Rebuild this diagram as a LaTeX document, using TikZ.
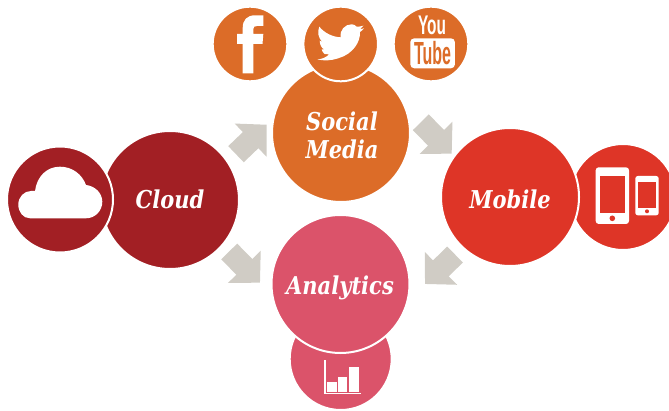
\documentclass[tikz,border=0pt]{standalone}
\usepackage{fontspec}
\usepackage{graphicx}
\setmainfont{DejaVu Serif}
\newfontfamily\logofont{Liberation Sans}
\usetikzlibrary{arrows.meta}
\definecolor{cloudred}{HTML}{A21F24}
\definecolor{socialorange}{HTML}{DC6C28}
\definecolor{mobilered}{HTML}{DE3527}
\definecolor{analyticsrose}{HTML}{DB536A}
\definecolor{arrowgrey}{HTML}{D0CCC5}
\newcommand{\tallword}[1]{\scalebox{1}[1.17]{#1}}
\tikzset{
    disc/.style={circle, draw=white, line width=2pt, outer sep=0pt, inner sep=0pt},
    bigdisc/.style={disc, minimum size=138pt},
    smalldisc/.style={disc, minimum size=106pt},
    logodisc/.style={disc, minimum size=74.6pt},
    disclabel/.style={inner sep=0pt, align=center, text=white, font=\fontsize{21}{28}\selectfont\bfseries\itshape},
    flowarrow/.style={draw=arrowgrey, line width=22.4pt, -{Triangle[length=22.3pt, width=44.7pt, fill=arrowgrey]}},
    icon/.style={fill=white, draw=none},
    logotext/.style={inner sep=0pt, font=\logofont\bfseries}
}

\begin{document}
\begin{tikzpicture}[x=1pt, y=-1pt]
    \useasboundingbox (0,0) rectangle (669,411);
    \clip (0,0) rectangle (669,411);

    % main circles and their small partners
    \node[bigdisc, fill=socialorange] (social) at (341,133) {};
    \node[logodisc, fill=socialorange] (facebook) at (250,44) {};
    \node[logodisc, fill=socialorange] (twitter) at (340.7,44) {};
    \node[logodisc, fill=socialorange] (youtube) at (431,44) {};

    \node[bigdisc, fill=cloudred] (cloud) at (170,200) {};
    \node[smalldisc, fill=cloudred] (cloudicon) at (60,199.5) {};

    \node[smalldisc, fill=mobilered] (mobileicon) at (623,197) {};
    \node[bigdisc, fill=mobilered] (mobile) at (510,197) {};

    \node[disc, minimum size=102pt, fill=analyticsrose] (charticon) at (340.7,359) {};
    \node[bigdisc, fill=analyticsrose] (analytics) at (340.5,284) {};

    % labels
    \node[disclabel] (sociallabel) at (342,135.5) {\tallword{Social}\\\tallword{Media}};
    \node[disclabel] (cloudlabel) at (170,199.5) {\tallword{Cloud}};
    \node[disclabel] (mobilelabel) at (510,199.5) {\tallword{Mobile}};
    \node[disclabel] (analyticslabel) at (340,288) {\tallword{Analytics}};

    % block arrows
    \coordinate (a1) at (236,154.2);
    \coordinate (a2) at (266.7,124.7);
    \coordinate (b1) at (420.8,122.3);
    \coordinate (b2) at (451.7,153.7);
    \coordinate (c1) at (229.2,251.5);
    \coordinate (c2) at (260,282.7);
    \coordinate (d1) at (455,254.5);
    \coordinate (d2) at (425,284);
    \draw[flowarrow] (a1) -- (a2);
    \draw[flowarrow] (b1) -- (b2);
    \draw[flowarrow] (c1) -- (c2);
    \draw[flowarrow] (d1) -- (d2);

    % facebook
    \fill[icon] (242.7,73.3) -- (253.3,73.3) -- (253.3,44) -- (262.5,44) -- (263.3,34) -- (253.3,34) -- (253.3,29)
        .. controls (253.3,27) and (254.5,26) .. (257,26) -- (263.3,26) -- (263.3,15.3) -- (255,15.3)
        .. controls (247,15.3) and (242.7,20) .. (242.7,28) -- (242.7,34) -- (237,34) -- (237,44) -- (242.7,44) -- cycle;

    % twitter
    \fill[icon] (351.7,24.3) .. controls (353.5,24.3) and (355.5,25.3) .. (356.7,26.7)
        .. controls (358.5,26.7) and (361,26.5) .. (363.3,25.7) .. controls (362.5,27) and (361.5,28.2) .. (360,29)
        .. controls (361.5,29) and (363,28.8) .. (364,28.3) .. controls (363,29.8) and (361.5,31) .. (360,32)
        .. controls (360.5,42) and (353,54) .. (338.3,58.3) .. controls (331,60.8) and (323,61) .. (317.3,59.3)
        .. controls (321,59.5) and (326,57.5) .. (329.3,54.3) .. controls (327,54.5) and (325.5,54) .. (324.7,54)
        .. controls (323,53) and (322,51) .. (321.7,49.3) .. controls (322.5,49.5) and (323.3,49.5) .. (324,49.3)
        .. controls (321.5,48) and (319.7,44.5) .. (319.7,40.7) .. controls (320.5,41.2) and (321.2,41.5) .. (322,41.7)
        .. controls (318.5,38) and (317,32) .. (319.3,26.7) .. controls (324,32.5) and (332,37) .. (340.7,37.3)
        .. controls (339.5,30) and (345,24.3) .. (351.7,24.3) -- cycle;

    % youtube
    \node[logotext, text=white] (youtext) at (432,25) {\fontsize{27}{27}\selectfont\scalebox{0.57}[1]{You}};
    \node[fill=white, rounded corners=4pt, minimum width=44.7pt, minimum height=30pt, inner sep=0pt] (tubebox) at (432.6,53.3) {};
    \node[logotext, text=socialorange] (tubetext) at (432.6,53.3) {\fontsize{32}{32}\selectfont\scalebox{0.5}[1]{Tube}};

    % cloud
    \fill[icon] (30,218.3) .. controls (23,218.3) and (18.3,212) .. (18.3,204.5) .. controls (18.3,197) and (24,191) .. (31,191) -- (35,191)
        .. controls (37,176) and (47,166.7) .. (60,166.7) .. controls (72,166.7) and (82,174) .. (86,185)
        .. controls (95,186) and (102.3,193) .. (102.3,201.7) .. controls (102.3,211) and (95,218.3) .. (86,218.3) -- cycle;

    % phones
    \fill[icon, rounded corners=3pt] (595.7,167.3) rectangle (629,224);
    \fill[mobilered] (599.7,176) rectangle (625,213.3);
    \fill[mobilered] (612.3,218.3) circle (2.8pt);
    \fill[icon, rounded corners=2.5pt] (635.3,176) rectangle (658.7,215.3);
    \fill[mobilered] (638.3,182) rectangle (656,208.3);
    \fill[mobilered] (647,211.3) circle (2pt);

    % chart
    \fill[icon] (324,360) rectangle (325.5,394);
    \fill[icon] (324,392.7) rectangle (360.7,394);
    \fill[icon] (327.3,382) rectangle (336.7,392);
    \fill[icon] (337.7,376.7) rectangle (347.3,392);
    \fill[icon] (349.3,367.3) rectangle (359,392);
\end{tikzpicture}
\end{document}
